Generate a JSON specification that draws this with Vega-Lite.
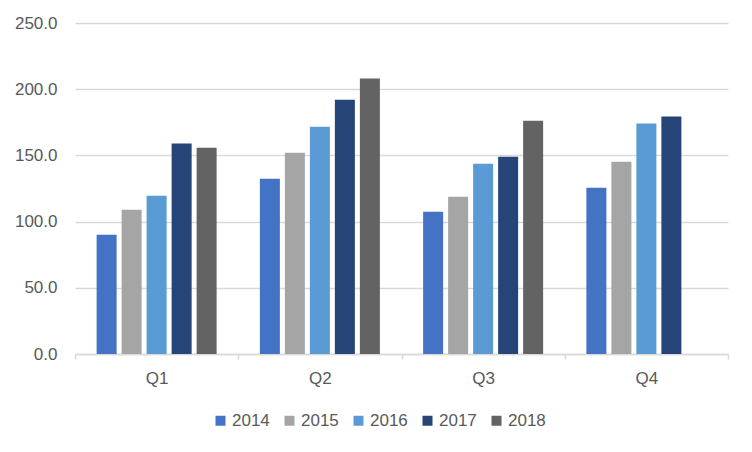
{
  "$schema": "https://vega.github.io/schema/vega-lite/v6.json",
  "autosize": "none",
  "width": 653,
  "height": 331,
  "padding": {"left": 75, "top": 23, "right": 24, "bottom": 98},
  "background": "white",
  "data": {
    "values": [
      {"quarter": "Q1", "year": "2014", "value": 90.0},
      {"quarter": "Q1", "year": "2015", "value": 108.9},
      {"quarter": "Q1", "year": "2016", "value": 119.5},
      {"quarter": "Q1", "year": "2017", "value": 158.9},
      {"quarter": "Q1", "year": "2018", "value": 155.8},
      {"quarter": "Q2", "year": "2014", "value": 132.4},
      {"quarter": "Q2", "year": "2015", "value": 152.0},
      {"quarter": "Q2", "year": "2016", "value": 171.7},
      {"quarter": "Q2", "year": "2017", "value": 192.1},
      {"quarter": "Q2", "year": "2018", "value": 208.0},
      {"quarter": "Q3", "year": "2014", "value": 107.4},
      {"quarter": "Q3", "year": "2015", "value": 118.8},
      {"quarter": "Q3", "year": "2016", "value": 143.7},
      {"quarter": "Q3", "year": "2017", "value": 149.0},
      {"quarter": "Q3", "year": "2018", "value": 176.2},
      {"quarter": "Q4", "year": "2014", "value": 125.6},
      {"quarter": "Q4", "year": "2015", "value": 145.2},
      {"quarter": "Q4", "year": "2016", "value": 174.0},
      {"quarter": "Q4", "year": "2017", "value": 179.3}
    ]
  },
  "mark": {"type": "bar"},
  "encoding": {
    "x": {
      "field": "quarter",
      "type": "nominal",
      "scale": {"paddingInner": 0, "paddingOuter": 0},
      "axis": {
        "title": null,
        "labelAngle": 0,
        "tickBand": "extent",
        "tickSize": 5,
        "tickColor": "#D9D9D9",
        "tickWidth": 1.5,
        "domainColor": "#D9D9D9",
        "domainWidth": 1.5,
        "labelPadding": 11,
        "labelFont": "Liberation Sans",
        "labelFontSize": 17,
        "labelColor": "#595959"
      }
    },
    "xOffset": {
      "field": "year",
      "type": "nominal",
      "scale": {"paddingInner": 0.2, "paddingOuter": 0.865}
    },
    "y": {
      "field": "value",
      "type": "quantitative",
      "scale": {"domain": [0, 250], "nice": false},
      "axis": {
        "title": null,
        "values": [0, 50, 100, 150, 200, 250],
        "format": ".1f",
        "domain": false,
        "ticks": false,
        "labelPadding": 18,
        "gridColor": "#D9D9D9",
        "gridWidth": 1.5,
        "labelFont": "Liberation Sans",
        "labelFontSize": 17,
        "labelColor": "#595959"
      }
    },
    "color": {
      "field": "year",
      "type": "nominal",
      "scale": {
        "domain": ["2014", "2015", "2016", "2017", "2018"],
        "range": ["#4472C4", "#A5A5A5", "#5B9BD5", "#264478", "#636363"]
      },
      "legend": {
        "title": null,
        "orient": "none",
        "legendX": 137,
        "legendY": 389,
        "direction": "horizontal",
        "symbolType": "square",
        "symbolSize": 100,
        "symbolStrokeWidth": 0,
        "labelFont": "Liberation Sans",
        "labelFontSize": 17,
        "labelColor": "#595959",
        "labelOffset": 3,
        "columnPadding": 11
      }
    }
  },
  "config": {
    "view": {"stroke": null}
  }
}
